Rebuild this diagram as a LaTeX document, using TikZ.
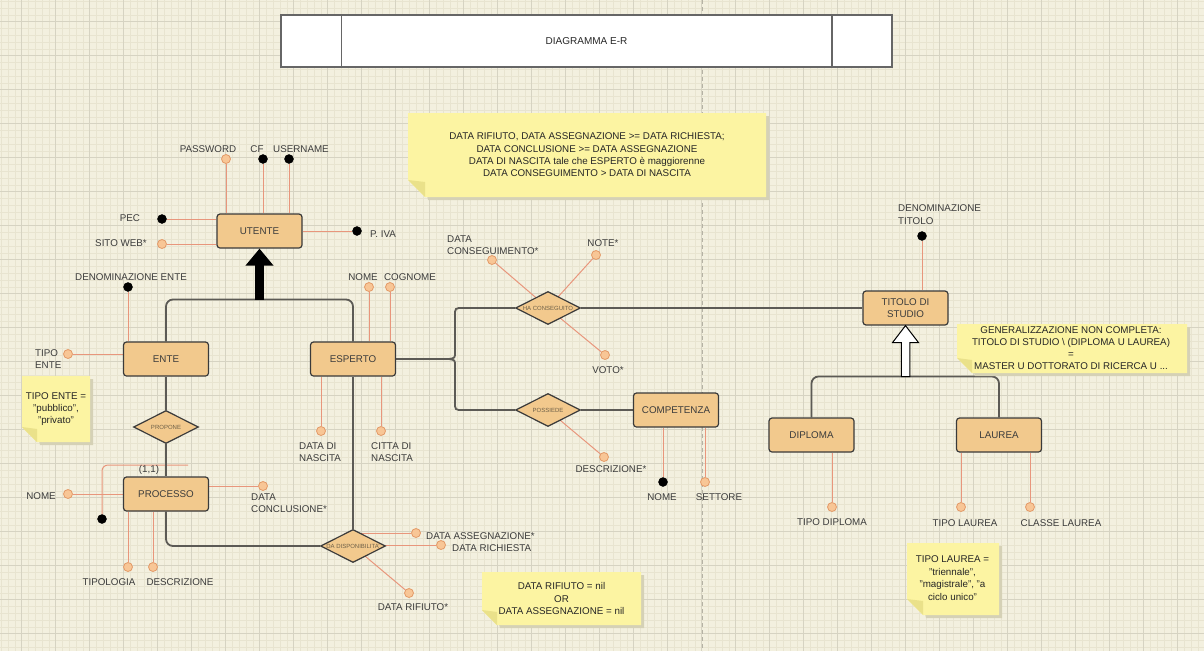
\documentclass[tikz,border=0pt]{standalone}
\usepackage{fontspec}
\setmainfont{Liberation Sans}
\usetikzlibrary{shapes.geometric,calc,arrows.meta}
\pgfdeclarelayer{gridlayer}
\pgfdeclarelayer{lines}
\pgfsetlayers{gridlayer,lines,main}
\definecolor{bg}{HTML}{F3F0DF}
\definecolor{gridminor}{HTML}{E8E4D0}
\definecolor{gridmajor}{HTML}{D6D3C2}
\definecolor{entfill}{HTML}{F2C98D}
\definecolor{entdraw}{HTML}{3A3A3A}
\definecolor{attrline}{HTML}{E8967C}
\definecolor{attrfill}{HTML}{F8C696}
\definecolor{attrdraw}{HTML}{E39A68}
\definecolor{relline}{HTML}{5C5A55}
\definecolor{notefill}{HTML}{FCF4A2}
\definecolor{notefold}{HTML}{EAE18A}
\definecolor{noteshadow}{HTML}{D5D1B6}
\definecolor{txt}{HTML}{3C3C3C}
\definecolor{reltxt}{HTML}{6E6048}
\definecolor{titledraw}{HTML}{666666}
\definecolor{dashcol}{HTML}{B5B2A4}
\newcommand{\fsz}{\fontsize{9.8}{12.3}\selectfont}
\newcommand{\stickynote}[6]{%
  \fill[noteshadow] (#2+3,#3+3) -- (#4+3,#3+3) -- (#4+3,#5+3) -- (#2+#6+3,#5+3) -- cycle;
  \fill[notefill] (#2,#3) -- (#4,#3) -- (#4,#5) -- (#2+#6,#5) -- (#2,#5-#6) -- cycle;
  \fill[notefold] (#2,#5-#6) -- (#2+#6,#5-#6+2) -- (#2+#6,#5) -- cycle;
  \coordinate (#1) at ({(#2+#4)/2},{(#3+#5)/2});
}
\begin{document}
\begin{tikzpicture}[x=1pt,y=-1pt,
  entity/.style={draw=entdraw, fill=entfill, line width=1.2pt, rounded corners=3pt,
    minimum width=85pt, minimum height=34pt, inner sep=0pt, font=\fsz, text=txt, align=center},
  reldia/.style={diamond, draw=entdraw, fill=entfill, line width=1.2pt,
    minimum width=65pt, minimum height=33pt, inner sep=0pt},
  rellbl/.style={font=\fontsize{6}{7}\selectfont, text=reltxt, inner sep=0pt},
  attro/.style={circle, minimum size=9pt, inner sep=0pt, draw=attrdraw, fill=attrfill, line width=0.8pt},
  attrb/.style={circle, minimum size=9pt, inner sep=0pt, draw=black, fill=black},
  aline/.style={draw=attrline, line width=1pt},
  relcon/.style={draw=relline, line width=1.8pt, rounded corners=7pt},
  lbl/.style={font=\fsz, text=txt, inner sep=0pt},
  lbll/.style={font=\fsz, text=txt, inner sep=0pt, align=left, anchor=west},
  notetext/.style={font=\fsz, text=black!85, inner sep=0pt, align=center},
]
\useasboundingbox (0,0) rectangle (1204,651);

% ---------- background grid ----------
\begin{pgfonlayer}{gridlayer}
\fill[bg] (0,0) rectangle (1204,651);
\foreach \i in {0,...,177} {\draw[gridminor, line width=0.6pt] ({1.3+6.8*\i},0) -- ({1.3+6.8*\i},651);}
\foreach \j in {0,...,95} {\draw[gridminor, line width=0.6pt] (0,{1.3+6.8*\j}) -- (1204,{1.3+6.8*\j});}
\foreach \i in {0,...,34} {\draw[gridmajor, line width=0.8pt] ({21.7+34*\i},0) -- ({21.7+34*\i},651);}
\foreach \j in {0,...,18} {\draw[gridmajor, line width=0.8pt] (0,{21.7+34*\j}) -- (1204,{21.7+34*\j});}
\draw[dashcol, line width=0.8pt, dash pattern=on 4pt off 3pt] (702,0) -- (702,651);
\end{pgfonlayer}

% ---------- title ----------
\node[draw=titledraw, fill=white, line width=1.5pt, minimum width=611pt, minimum height=52pt,
  inner sep=0pt, font=\fontsize{10}{12}\selectfont, text=black!85] (title) at (586.5,41) {DIAGRAMMA E-R};
\draw[titledraw, line width=1.5pt] ($(title.north west)+(61,0)$) -- ($(title.south west)+(61,0)$);
\draw[titledraw, line width=1.5pt] ($(title.north east)+(-61,0)$) -- ($(title.south east)+(-61,0)$);

% ---------- notes ----------
\stickynote{nc1}{408}{113}{766}{197}{17}
\node[notetext] (n1) at (nc1) {DATA RIFIUTO, DATA ASSEGNAZIONE >= DATA RICHIESTA;\\DATA CONCLUSIONE >= DATA ASSEGNAZIONE\\DATA DI NASCITA tale che ESPERTO è maggiorenne\\DATA CONSEGUIMENTO > DATA DI NASCITA};
\stickynote{nc2}{22}{376}{90}{442}{15}
\node[notetext] (n2) at (nc2) {TIPO ENTE =\\"pubblico",\\"privato"};
\stickynote{nc3}{482}{572}{641}{625}{15}
\node[notetext] (n3) at (nc3) {DATA RIFIUTO = nil\\OR\\DATA ASSEGNAZIONE = nil};
\stickynote{nc4}{957}{324}{1187}{373}{15}
\node[notetext, font=\fontsize{9.8}{12}\selectfont] (n4) at (1071,348.5) {GENERALIZZAZIONE NON COMPLETA:\\TITOLO DI STUDIO \textbackslash\ (DIPLOMA U LAUREA)\\=\\MASTER U DOTTORATO DI RICERCA U ...};
\stickynote{nc5}{907}{543}{999}{615}{16}
\node[notetext, font=\fontsize{9.8}{12.6}\selectfont] (n5) at (952.5,578) {TIPO LAUREA =\\"triennale",\\"magistrale", "a\\ciclo unico"};

% ---------- entities ----------
\node[entity] (utente) at (259.5,231) {UTENTE};
\node[entity] (ente) at (166,359) {ENTE};
\node[entity] (esperto) at (353,359) {ESPERTO};
\node[entity] (processo) at (166,494) {PROCESSO};
\node[entity] (competenza) at (676,410) {COMPETENZA};
\node[entity, font=\fontsize{9.8}{12.6}\selectfont] (titolo) at (905.5,308) {TITOLO DI\\STUDIO};
\node[entity] (diploma) at (811.5,435) {DIPLOMA};
\node[entity] (laurea) at (999,435) {LAUREA};

% ---------- relationships ----------
\node[reldia] (propone) at (166,427) {};
\node[rellbl] (proponel) at (propone) {PROPONE};
\node[reldia] (dadisp) at (353,546) {};
\node[rellbl] (dadispl) at (dadisp) {DA DISPONIBILITA'};
\node[reldia] (hacons) at (548,308) {};
\node[rellbl] (haconsl) at (hacons) {HA CONSEGUITO};
\node[reldia] (possiede) at (548,410) {};
\node[rellbl] (possiedel) at (possiede) {POSSIEDE};

% ---------- attribute circles ----------
\node[attro] (pw) at (226,159) {};
\node[attrb] (cf) at (263,159) {};
\node[attrb] (un) at (289,159) {};
\node[attrb] (pec) at (162,219) {};
\node[attro] (sito) at (162,244) {};
\node[attrb] (piva) at (357,231) {};
\node[attrb] (denent) at (128,287) {};
\node[attro] (tipoent) at (68,354) {};
\node[attro] (enome) at (369,287) {};
\node[attro] (ecogn) at (390,287) {};
\node[attro] (dnasc) at (321,431) {};
\node[attro] (citta) at (381,431) {};
\node[attro] (pnome) at (68,494) {};
\node[attro] (dconcl) at (263,486) {};
\node[attro] (tipol) at (128,567) {};
\node[attro] (pdesc) at (153,567) {};
\node[attrb] (pid) at (102,519) {};
\node[attro] (dass) at (416,533) {};
\node[attro] (dric) at (441,545) {};
\node[attro] (drif) at (409,593) {};
\node[attro] (dcons) at (492,260) {};
\node[attro] (note) at (596,255) {};
\node[attro] (voto) at (605,355) {};
\node[attro] (cdesc) at (604,457) {};
\node[attrb] (cnome) at (663,482) {};
\node[attro] (sett) at (705,482) {};
\node[attrb] (dent) at (922,236) {};
\node[attro] (tdip) at (832,507) {};
\node[attro] (tlau) at (961,507) {};
\node[attro] (clau) at (1030,507) {};

% ---------- attribute labels ----------
\node[lbl] (lpw) at (208,149) {PASSWORD};
\node[lbl] (lcf) at (257,149) {CF};
\node[lbl] (lun) at (301,149) {USERNAME};
\node[lbl] (lpec) at (130,218) {PEC};
\node[lbl] (lsito) at (121,243) {SITO WEB*};
\node[lbl] (lpiva) at (383,234) {P. IVA};
\node[lbl] (ldenent) at (131,277) {DENOMINAZIONE ENTE};
\node[lbll] (ltipoent) at (35,359) {TIPO\\ENTE};
\node[lbl] (lenome) at (363,277) {NOME};
\node[lbl] (lecogn) at (410,277) {COGNOME};
\node[lbll] (ldnasc) at (299,452) {DATA DI\\NASCITA};
\node[lbll] (lcitta) at (371,452) {CITTA DI\\NASCITA};
\node[lbl] (l11) at (149,470) {(1,1)};
\node[lbl] (lpnome) at (41,496) {NOME};
\node[lbll] (ldconcl) at (251,503.5) {DATA\\CONCLUSIONE*};
\node[lbl] (ltipol) at (109,582) {TIPOLOGIA};
\node[lbl] (lpdesc) at (180,582) {DESCRIZIONE};
\node[lbll] (ldass) at (426,536) {DATA ASSEGNAZIONE*};
\node[lbll] (ldric) at (452,548) {DATA RICHIESTA};
\node[lbl] (ldrif) at (413,607) {DATA RIFIUTO*};
\node[lbll] (ldcons) at (447,245) {DATA\\CONSEGUIMENTO*};
\node[lbl] (lnote) at (603,243) {NOTE*};
\node[lbl] (lvoto) at (608,370) {VOTO*};
\node[lbl] (lcdesc) at (611,469) {DESCRIZIONE*};
\node[lbl] (lcnome) at (662,497) {NOME};
\node[lbl] (lsett) at (719,497) {SETTORE};
\node[lbll] (ldent) at (898,214.5) {DENOMINAZIONE\\TITOLO};
\node[lbl] (ltdip) at (832,522) {TIPO DIPLOMA};
\node[lbl] (ltlau) at (965,523) {TIPO LAUREA};
\node[lbl] (lclau) at (1061,523) {CLASSE LAUREA};

% ---------- connectors (behind nodes) ----------
\coordinate (barU) at (259.5,299.5);
\coordinate (barT) at (905.5,376.5);
\coordinate (brace) at (449,359);
\coordinate (idend) at (188,465);
\begin{pgfonlayer}{lines}
% attribute lines
\draw[aline] (pw) -- (pw |- utente.north);
\draw[aline] (cf) -- (cf |- utente.north);
\draw[aline] (un) -- (un |- utente.north);
\draw[aline] (pec) -- (pec -| utente.west);
\draw[aline] (sito) -- (sito -| utente.west);
\draw[aline] (piva) -- (piva -| utente.east);
\draw[aline] (denent) -- (denent |- ente.north);
\draw[aline] (tipoent) -- (tipoent -| ente.west);
\draw[aline] (enome) -- (enome |- esperto.north);
\draw[aline] (ecogn) -- (ecogn |- esperto.north);
\draw[aline] (dnasc) -- (dnasc |- esperto.south);
\draw[aline] (citta) -- (citta |- esperto.south);
\draw[aline] (pnome) -- (pnome -| processo.west);
\draw[aline] (dconcl) -- (dconcl -| processo.east);
\draw[aline] (tipol) -- (tipol |- processo.south);
\draw[aline] (pdesc) -- (pdesc |- processo.south);
\draw[aline, rounded corners=6pt] (pid) |- (idend);
\draw[aline] (dass) -- (dass -| dadisp.center);
\draw[aline] (dric) -- (dric -| dadisp.center);
\draw[aline] (drif) -- (dadisp.center);
\draw[aline] (dcons) -- (hacons.center);
\draw[aline] (note) -- (hacons.center);
\draw[aline] (voto) -- (hacons.center);
\draw[aline] (cdesc) -- (possiede.center);
\draw[aline] (cnome) -- (cnome |- competenza.south);
\draw[aline] (sett) -- (sett |- competenza.south);
\draw[aline] (dent) -- (dent |- titolo.north);
\draw[aline] (tdip) -- (tdip |- diploma.south);
\draw[aline] (tlau) -- (tlau |- laurea.south);
\draw[aline] (clau) -- (clau |- laurea.south);
% relationship connectors
\draw[relcon] (ente.north) |- (barU) -| (esperto.north);
\draw[relcon] (ente.south) -- (propone.north);
\draw[relcon] (propone.south) -- (processo.north);
\draw[relcon] (processo.south) |- (dadisp.west);
\draw[relcon] (esperto.south) -- (dadisp.north);
\draw[relcon, rounded corners=0pt] (esperto.east) -- (brace);
\draw[relcon, rounded corners=0pt] (hacons.west) -- (463,308) .. controls (455,308) .. (455,316) -- (455,352)
   .. controls (455,358) .. (brace) .. controls (455,360) .. (455,366) -- (455,402)
   .. controls (455,410) .. (463,410) -- (possiede.west);
\draw[relcon] (hacons.east) -- (titolo.west);
\draw[relcon] (possiede.east) -- (competenza.west);
\draw[relcon] (diploma.north) |- (barT) -| (laurea.north);
\end{pgfonlayer}

% ---------- generalization arrows ----------
\draw[black, line width=9pt, -{Triangle[width=27pt,length=17pt]}] (barU) -- (utente.south);
\draw[black, fill=white, line width=1pt, line join=miter] (titolo.south) -- ++(13,17) -- ++(-8.75,0)
  -- ($(barT)+(4.25,0)$) -- ($(barT)+(-4.25,0)$) -- ($(titolo.south)+(-4.25,17)$) -- ++(-8.75,0) -- cycle;
\end{tikzpicture}
\end{document}
